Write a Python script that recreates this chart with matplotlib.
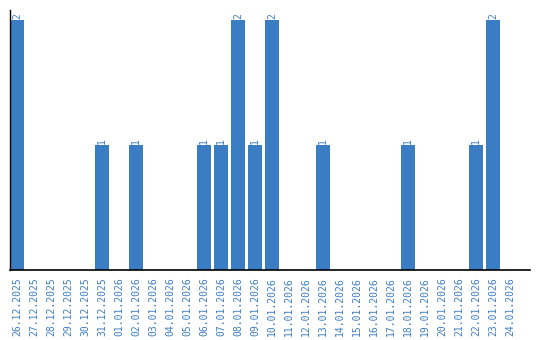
import matplotlib
matplotlib.use("Agg")
import matplotlib.pyplot as plt
import numpy as np

dates = ["26.12.2025", "27.12.2025", "28.12.2025", "29.12.2025", "30.12.2025",
         "31.12.2025", "01.01.2026", "02.01.2026", "03.01.2026", "04.01.2026",
         "05.01.2026", "06.01.2026", "07.01.2026", "08.01.2026", "09.01.2026",
         "10.01.2026", "11.01.2026", "12.01.2026", "13.01.2026", "14.01.2026",
         "15.01.2026", "16.01.2026", "17.01.2026", "18.01.2026", "19.01.2026",
         "20.01.2026", "21.01.2026", "22.01.2026", "23.01.2026", "24.01.2026"]
counts = [2, 0, 0, 0, 0, 1, 0, 1, 0, 0,
          0, 1, 1, 2, 1, 2, 0, 0, 1, 0,
          0, 0, 0, 1, 0, 0, 0, 1, 2, 0]

blue = "#3a7dc3"
text_blue = "#3d7ec4"

fig = plt.figure(figsize=(5.4, 3.4), dpi=100)
ax = fig.add_axes([10 / 540, 70 / 340, 520 / 540, 260 / 340])

x = np.arange(len(dates))
ax.bar(x, counts, width=0.82, color=blue)
for xi, c in zip(x, counts):
    if c > 0:
        ax.text(xi, c + 0.01, str(c), rotation=90, ha="center", va="bottom",
                color=text_blue, fontsize=7, family="DejaVu Sans Mono")

ax.set_xlim(-0.41, 30.18)
ax.set_ylim(0, 2.08)
ax.set_xticks(x)
ax.set_xticklabels(dates, rotation=90, color=text_blue, fontsize=7,
                   family="DejaVu Sans Mono")
ax.tick_params(axis="x", length=0, pad=5)
ax.set_yticks([])
for s in ("top", "right"):
    ax.spines[s].set_visible(False)
ax.spines["left"].set_linewidth(1)
ax.spines["bottom"].set_linewidth(1.2)

fig.savefig("out.png", dpi=100)
